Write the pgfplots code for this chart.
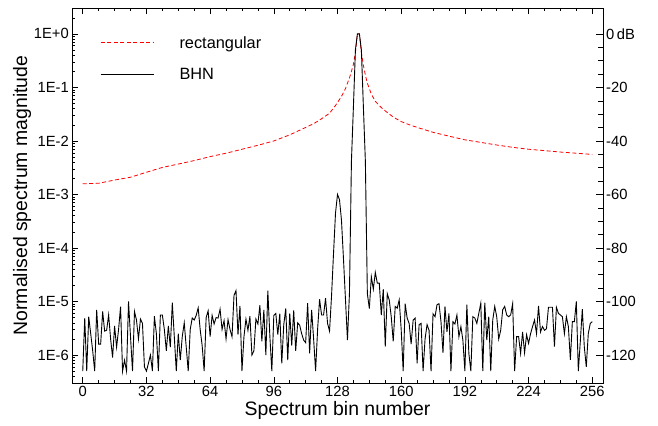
\documentclass[border=0pt]{standalone}
\usepackage{fontspec}
\setmainfont{Liberation Sans}
\usepackage{pgfplots}
\pgfplotsset{compat=1.18}

% rectangular window spectrum
\pgfplotstableread{
x y
0 1.58e-3
8 1.62e-3
16 1.86e-3
24 2.1e-3
32 2.6e-3
40 3.2e-3
48 3.7e-3
56 4.3e-3
64 5.1e-3
72 5.9e-3
80 7.0e-3
88 8.3e-3
96 1.0e-2
104 1.3e-2
110 1.65e-2
116 2.1e-2
120 2.6e-2
124 3.3e-2
127 4.6e-2
130 6.8e-2
132 9.5e-2
133 0.12
134 0.15
135 0.2
136 0.27
137 0.45
138 1.0
139 1.0
140 0.45
141 0.26
142 0.17
143 0.12
144 0.095
145 0.075
147 0.055
150 0.042
153 0.034
156 0.028
160 0.023
165 0.0195
170 0.0170
176 0.0145
184 0.0123
192 0.0105
200 9.4e-3
208 8.4e-3
216 7.6e-3
224 7.0e-3
232 6.6e-3
240 6.2e-3
248 5.9e-3
256 5.6e-3
}\rect

% Blackman-Harris-Nuttall window spectrum
\pgfplotstableread{
x y
0 5e-7
1 4.9e-6
2 5e-7
3 5.2e-6
4 2.5e-6
5 1.2e-6
6 5e-7
7 7.0e-6
8 1.6e-6
9 1.6e-6
10 6.5e-6
11 2.8e-6
12 2.9e-6
13 5.6e-6
14 2.0e-6
15 9e-7
16 3.5e-6
17 1.4e-6
18 3.0e-6
19 8.0e-6
20 5e-7
21 8e-7
22 5e-7
23 1.0e-5
24 2.2e-6
25 5e-7
26 6.5e-6
27 4.5e-6
28 2.0e-6
29 4.7e-6
30 3.9e-6
31 6e-7
32 5e-7
33 7e-7
34 1.0e-6
35 5e-7
36 5.3e-6
37 2.5e-6
38 5e-7
39 5.6e-6
40 5.6e-6
41 3.0e-6
42 1.2e-6
43 3.5e-6
44 1.4e-6
45 9.5e-6
46 2.2e-6
47 5e-7
48 2.5e-6
49 8e-7
50 2.2e-6
51 4.0e-6
52 1.4e-6
53 5e-7
54 3.0e-6
55 4.9e-6
56 4.5e-6
57 5.5e-6
58 7.6e-6
59 3.0e-6
60 1.5e-6
61 5e-7
62 5.0e-6
63 6.7e-6
64 2.2e-6
65 5.5e-6
66 3.8e-6
67 5.0e-6
68 4.9e-6
69 7.2e-6
70 3.0e-6
71 4.4e-6
72 2.0e-6
73 4.6e-6
74 3.0e-6
75 2.2e-6
76 1.3e-5
77 1.6e-5
78 2.4e-6
79 8.3e-6
80 5e-7
81 2.2e-6
82 4.7e-6
83 2.9e-6
84 5.3e-6
85 1.0e-6
86 1.2e-6
87 4.7e-6
88 3.8e-6
89 8.5e-6
90 1.8e-6
91 7.0e-6
92 1.0e-6
93 1.6e-5
94 2.3e-6
95 5e-7
96 5.5e-6
97 6.0e-6
98 2.4e-6
99 5.9e-6
100 7e-7
101 3.7e-6
102 7.4e-6
103 8e-7
104 6.0e-6
105 1.5e-6
106 6.8e-6
107 1.2e-6
108 4.0e-6
109 3.6e-6
110 2.5e-6
111 1.9e-6
112 1.7e-6
113 9.3e-6
114 1.07e-6
115 7e-6
116 2e-6
117 5e-7
118 3e-6
119 1.1e-5
120 5.6e-6
121 5.6e-6
122 1.15e-5
123 3.9e-6
124 2.8e-6
125 1.26e-5
126 7.9e-5
127 4.5e-4
128 1.0e-3
129 8e-4
130 3.3e-4
131 6.3e-5
132 1.1e-5
133 1.9e-6
134 1.4e-5
135 4.2e-3
136 0.044
137 0.5
138 1.0
139 1.0
140 0.5
141 0.044
142 4.2e-3
143 1.4e-5
144 7.4e-6
145 2.9e-5
146 1.7e-5
147 3.5e-5
148 2.2e-5
149 2.2e-5
150 5.6e-6
151 1.7e-5
152 1.44e-6
153 1.4e-5
154 1.07e-5
155 5.2e-6
156 1.8e-6
157 8.1e-6
158 7.5e-6
159 1.07e-5
160 3e-6
161 5e-7
162 9.1e-6
163 4.9e-6
164 3.9e-6
165 1.6e-6
166 4.5e-6
167 4.9e-6
168 7e-7
169 3.7e-6
170 3.9e-6
171 5e-7
172 2e-6
173 3.7e-6
174 2.9e-6
175 5e-7
176 5.9e-6
177 5.2e-6
178 8.7e-6
179 9.1e-6
180 4.2e-6
181 1.1e-6
182 8.1e-6
183 2.7e-6
184 6e-6
185 5e-7
186 4.2e-6
187 3.8e-6
188 5.6e-6
189 2.2e-6
190 3.4e-6
191 1.9e-6
192 5e-7
193 8.7e-6
194 1.07e-6
195 5e-7
196 5.2e-6
197 4.9e-6
198 3.9e-6
199 6e-6
200 9.3e-6
201 5e-7
202 9.5e-6
203 1.9e-6
204 5.2e-6
205 5e-7
206 4.5e-6
207 8.1e-6
208 5.2e-6
209 2.0e-6
210 2.9e-6
211 7e-6
212 8.1e-6
213 5.6e-6
214 5.2e-6
215 5.6e-6
216 9.1e-6
217 5e-7
218 2.2e-6
219 2.2e-6
220 1.07e-6
221 2.7e-6
222 1.1e-6
223 2.4e-6
224 1.65e-6
225 2.5e-6
226 3.4e-6
227 4.5e-6
228 2.5e-6
229 8.3e-6
230 2.7e-6
231 3.4e-6
232 2.9e-6
233 3.1e-6
234 7.8e-6
235 7.8e-6
236 7.8e-6
237 1.43e-6
238 7.8e-6
239 6e-6
240 5.6e-6
241 5.2e-6
242 2.5e-6
243 5.2e-6
244 3.4e-6
245 8.1e-7
246 4.2e-6
247 4.2e-6
248 1.0e-5
249 5e-7
250 1.8e-6
251 7.2e-6
252 1.43e-6
253 6e-7
254 2.5e-6
255 3.9e-6
256 4.2e-6
}\bhn

\begin{document}
\begin{tikzpicture}
\begin{axis}[
  name=main,
  scale only axis,
  width=531bp, height=375bp,
  xmin=-5.4, xmax=261.4,
  ymode=log, ymin=3e-7, ymax=3.05,
  xtick={0,32,...,256},
  xticklabels={0,32,64,96,128,160,192,224,256},
  minor x tick num=3,
  ytick={1e-6,1e-5,1e-4,1e-3,1e-2,1e-1,1},
  yticklabels={1E-6,1E-5,1E-4,1E-3,1E-2,1E-1,1E+0},
  minor ytick={3e-7,4e-7,5e-7,6e-7,7e-7,8e-7,9e-7,
    2e-6,3e-6,4e-6,5e-6,6e-6,7e-6,8e-6,9e-6,
    2e-5,3e-5,4e-5,5e-5,6e-5,7e-5,8e-5,9e-5,
    2e-4,3e-4,4e-4,5e-4,6e-4,7e-4,8e-4,9e-4,
    2e-3,3e-3,4e-3,5e-3,6e-3,7e-3,8e-3,9e-3,
    2e-2,3e-2,4e-2,5e-2,6e-2,7e-2,8e-2,9e-2,
    2e-1,3e-1,4e-1,5e-1,6e-1,7e-1,8e-1,9e-1,2,3},
  ytick pos=left,
  tick align=inside,
  major tick length=6bp, minor tick length=3bp,
  tick style={black, line width=0.6bp},
  axis line style={black, line width=0.8bp},
  ticklabel style={font=\fontsize{14.8}{16}\selectfont},
  yticklabel style={inner sep=1bp, xshift=-2bp},
  xticklabel style={inner sep=1bp, yshift=-2bp},
  xlabel={Spectrum bin number},
  ylabel={Normalised spectrum magnitude},
  label style={font=\fontsize{19.5}{22}\selectfont},
  xlabel style={at={(axis description cs:0.5,-0.087)}, anchor=base},
  ylabel style={at={(axis description cs:-0.094,0.5)}, anchor=center},
  legend style={draw=none, fill=none, at={(axis description cs:0.047,0.936)},
    anchor=north west, font=\fontsize{16.4}{18}\selectfont,
    row sep=15bp, column sep=23.5bp},
  legend cell align=left,
  legend image code/.code={\draw[#1] plot coordinates {(0bp,0bp) (53bp,0bp)};},
]
\addplot[red, line width=0.8bp, dash pattern=on 4bp off 2.5bp] table[x=x, y=y] {\rect};
\addplot[black, line width=0.9bp] table[x=x, y=y] {\bhn};
\legend{rectangular, BHN}
\end{axis}
\begin{axis}[
  scale only axis,
  width=531bp, height=375bp,
  xmin=-5.4, xmax=261.4,
  hide x axis,
  ymin=-130.46, ymax=9.69,
  axis y line*=right,
  ytick={-120,-100,...,0},
  yticklabels={-120,-100,-80,-60,-40,-20,0\,dB},
  minor y tick num=3,
  tick align=inside,
  major tick length=7.5bp, minor tick length=5bp,
  tick style={black, line width=0.6bp},
  axis line style={black, line width=0.8bp},
  ticklabel style={font=\fontsize{14.8}{16}\selectfont},
  yticklabel style={inner sep=1bp, xshift=2bp},
]
\end{axis}
\path (main.south west) ++(-72bp,-43bp) rectangle ++(658bp,426bp);
\end{tikzpicture}
\end{document}
